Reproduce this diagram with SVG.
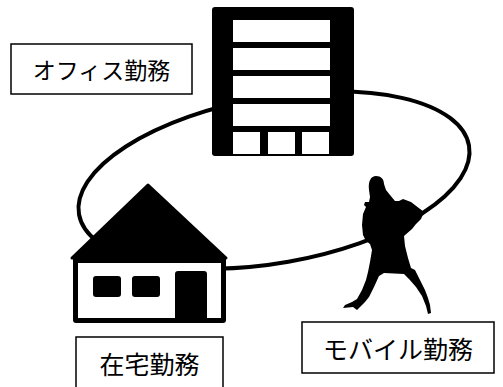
<svg xmlns="http://www.w3.org/2000/svg" width="503" height="387" viewBox="0 0 503 387">
  <style>
    .label-box { fill: #fff; stroke: #000; stroke-width: 1.5; }
    .label { font-family: "Noto Sans CJK JP", "Noto Sans", sans-serif; fill: #000; text-anchor: middle; dominant-baseline: central; }
    .ink { fill: #000; }
    .paper { fill: #fff; }
  </style>
  <rect width="503" height="387" fill="#fff"/>

  <!-- loop linking the three work styles -->
  <g id="connectors">
    <ellipse cx="274" cy="180" rx="198" ry="83" transform="rotate(-10 274 180)" fill="none" stroke="#000" stroke-width="4"/>
  </g>

  <!-- office building -->
  <g id="office-building">
    <rect class="ink" x="212" y="7" width="142" height="149" rx="3"/>
    <rect class="paper" x="233" y="20" width="97" height="22"/>
    <rect class="paper" x="233" y="48" width="97" height="22"/>
    <rect class="paper" x="233" y="76" width="97" height="22"/>
    <rect class="paper" x="233" y="104" width="97" height="22"/>
    <rect class="paper" x="233" y="132" width="27" height="22"/>
    <rect class="paper" x="268" y="132" width="27" height="22"/>
    <rect class="paper" x="302" y="132" width="27" height="22"/>
  </g>

  <!-- house -->
  <g id="house">
    <polygon class="ink" points="148,185 226,258 72,258" stroke="#000" stroke-width="3" stroke-linejoin="round"/>
    <rect class="ink" x="73" y="256" width="153" height="67" rx="3"/>
    <rect class="paper" x="78" y="263" width="143" height="55"/>
    <rect class="ink" x="93" y="276" width="28" height="21" rx="3"/>
    <rect class="ink" x="132" y="276" width="28" height="21" rx="3"/>
    <path class="ink" d="M175,318 V274 Q175,271 178,271 H204 Q207,271 207,274 V318 Z"/>
  </g>

  <!-- walking commuter with shoulder bag -->
  <g id="commuter">
    <path class="ink" d="M376,176 C381,176 384,179 384,184 L386,190 L390,195 L395,201 L399,201 L403,199 L411,202 L424,212 L421,219 L416,224 L412,229 L404,236 L405,246 L408,258 L411,268 L415,270 L420,280 L425,290 L428,298 L430,305 L431,313 L428,314 L426,306 L422,296 L416,287 L409,279 L404,274 L384,273 L379,276 L374,287 L369,297 L365,302 L360,307 L357,310 L353,307 L343,308 L345,305 L352,302 L357,299 L362,290 L366,280 L368,272 L370,262 L372,250 L370,244 L366,241 L363,235 L362,225 L363,214 L366,207 L364,205 L365,202 L369,202 L370,197 L369,190 C368,181 371,176 376,176 Z"/>
  </g>

  <!-- labels -->
  <g id="label-office">
    <rect class="label-box" x="11" y="44" width="181" height="50"/>
    <text class="label" x="101.5" y="69" font-size="23">オフィス勤務</text>
  </g>
  <g id="label-home">
    <rect class="label-box" x="76" y="337" width="147" height="60"/>
    <text class="label" x="149.5" y="363" font-size="25">在宅勤務</text>
  </g>
  <g id="label-mobile">
    <rect class="label-box" x="302" y="322" width="192" height="51"/>
    <text class="label" x="398" y="348" font-size="25">モバイル勤務</text>
  </g>
</svg>
